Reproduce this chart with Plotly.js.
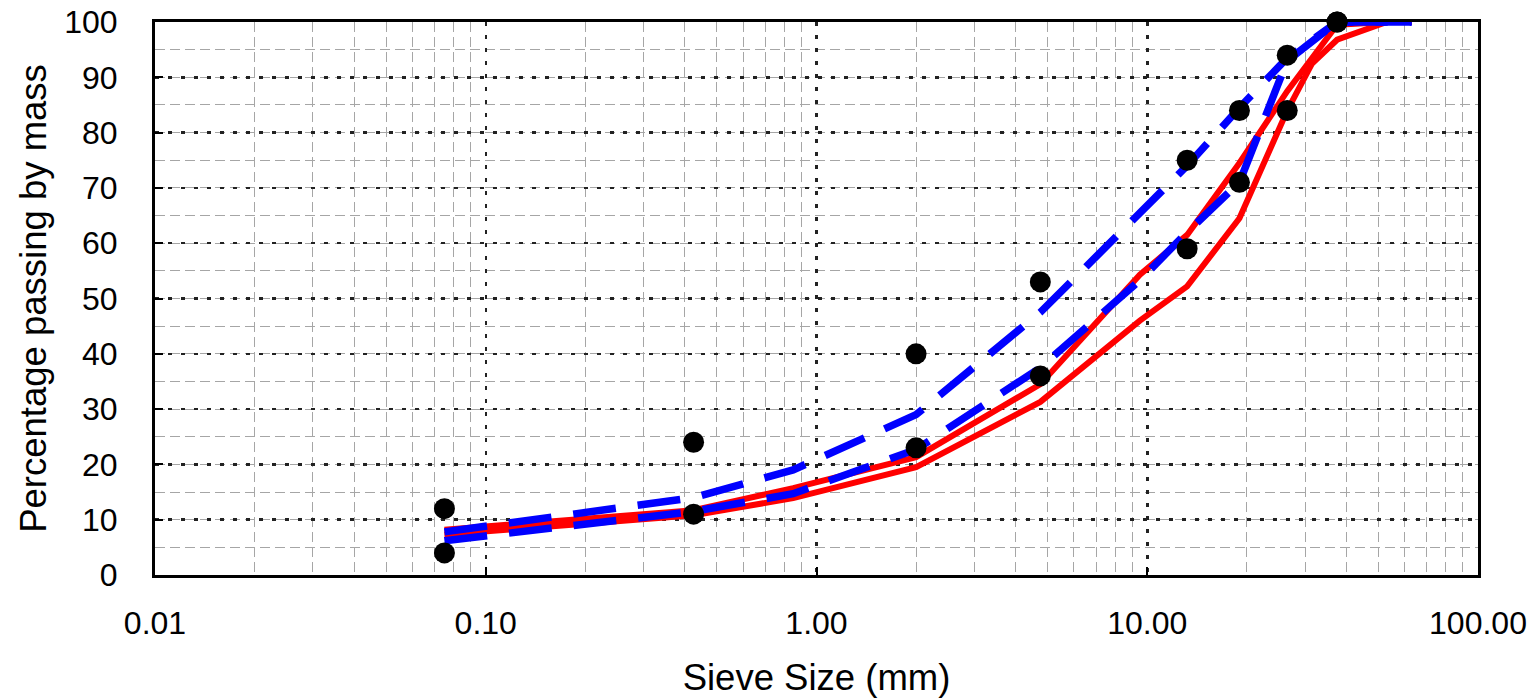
<!DOCTYPE html>
<html>
<head>
<meta charset="utf-8">
<script src="https://cdn.plot.ly/plotly-3.0.1.min.js"></script>
<style>html,body{margin:0;padding:0;background:#fff;}#chart{width:1532px;height:698px;}</style>
</head>
<body>
<div id="chart"></div>
<script>
// Sieve sizes (mm)
const lineSizes = [0.075, 0.425, 0.85, 2.0, 4.75, 9.5, 13.2, 19.0, 26.5, 37.5, 53, 63];
const redCoarseSizes = [0.075, 0.425, 0.85, 2.0, 4.75, 9.5, 13.2, 19.0, 26.5, 31.5, 37.5, 53, 63];
const envSizes = [0.075, 0.425, 2.0, 4.75, 13.2, 19.0, 26.5, 37.5];

// Percentage passing
const redFine   = [8.2, 11.7, 15.7, 21.3, 34.5, 54.3, 61.5, 74.5, 87.5, 99.5, 100, 100];
const redCoarse = [7.3, 10.8, 13.9, 19.5, 31.3, 46.0, 52.2, 64.5, 84.0, 92.5, 96.8, 100, 100];
const blueUpper = [7.8, 14.0, 19.0, 29.0, 47.5, 65.5, 74.0, 84.5, 93.5, 100, 100, 100];
const blueLower = [6.2, 11.5, 14.7, 22.7, 37.5, 53.3, 62.0, 71.0, 93.0, 100, 100, 100];
const envLower  = [4, 11, 23, 36, 59, 71, 84, 100];
const envUpper  = [12, 24, 40, 53, 75, 84, 94, 100];

// Axis ticks
const xTickVals = [0.01, 0.1, 1, 10, 100];
const xTickText = ["0.01", "0.10", "1.00", "10.00", "100.00"];
const xMinorVals = [];
[0.01, 0.1, 1, 10].forEach(d => { for (let k = 2; k <= 9; k++) xMinorVals.push(+(d * k).toPrecision(3)); });
const yTickVals = [0, 10, 20, 30, 40, 50, 60, 70, 80, 90, 100];

const FONT = "Arial, 'Liberation Sans', sans-serif";
const RED = "#ff0000", BLUE = "#0000ff";

const traces = [
  {x: lineSizes, y: redFine, mode: "lines", line: {color: RED, width: 6}, hoverinfo: "skip", cliponaxis: false},
  {x: redCoarseSizes, y: redCoarse, mode: "lines", line: {color: RED, width: 6}, hoverinfo: "skip", cliponaxis: false},
  {x: lineSizes, y: blueUpper, mode: "lines", line: {color: BLUE, width: 7.5, dash: "43px,22px"}, hoverinfo: "skip", cliponaxis: false},
  {x: lineSizes, y: blueLower, mode: "lines", line: {color: BLUE, width: 7.5, dash: "43px,22px"}, hoverinfo: "skip", cliponaxis: false},
  {x: envSizes, y: envLower, mode: "markers", marker: {color: "#000", size: 21}, cliponaxis: false},
  {x: envSizes, y: envUpper, mode: "markers", marker: {color: "#000", size: 21}, cliponaxis: false}
];

const gridMajor = {showgrid: true, gridcolor: "#222", gridwidth: 2.5, griddash: "4px,9px"};
const minorGrid = {showgrid: true, gridcolor: "#a6a6a6", gridwidth: 1, griddash: "10px,5px", ticks: ""};

const layout = {
  width: 1532, height: 698,
  margin: {l: 155, r: 54, t: 22, b: 123},
  paper_bgcolor: "#fff", plot_bgcolor: "#fff",
  showlegend: false,
  font: {family: FONT, color: "#000", size: 32},
  xaxis: Object.assign({
    type: "log", range: [-2, 2],
    tickmode: "array", tickvals: xTickVals, ticktext: xTickText,
    minor: Object.assign({tickmode: "array", tickvals: xMinorVals}, minorGrid),
    showline: true, linecolor: "#000", linewidth: 3, mirror: true,
    ticks: "inside", ticklen: 8, tickwidth: 2, tickcolor: "#000",
    tickfont: {family: FONT, size: 32, color: "#000"},
    ticklabelstandoff: 18,
    zeroline: false,
    title: {text: "Sieve Size (mm)", font: {family: FONT, size: 36.5, color: "#000"}, standoff: 26}
  }, gridMajor),
  yaxis: Object.assign({
    range: [0, 100],
    tickmode: "array", tickvals: yTickVals,
    minor: Object.assign({dtick: 5, tick0: 0}, minorGrid),
    showline: true, linecolor: "#000", linewidth: 3, mirror: true,
    ticks: "inside", ticklen: 8, tickwidth: 2, tickcolor: "#000",
    tickfont: {family: FONT, size: 32, color: "#000"},
    ticklabelstandoff: 28,
    zeroline: false,
    title: {text: "Percentage passing by mass", font: {family: FONT, size: 36.5, color: "#000"}, standoff: 7}
  }, gridMajor)
};

Plotly.newPlot("chart", traces, layout, {displayModeBar: false, staticPlot: true});
</script>
</body>
</html>
